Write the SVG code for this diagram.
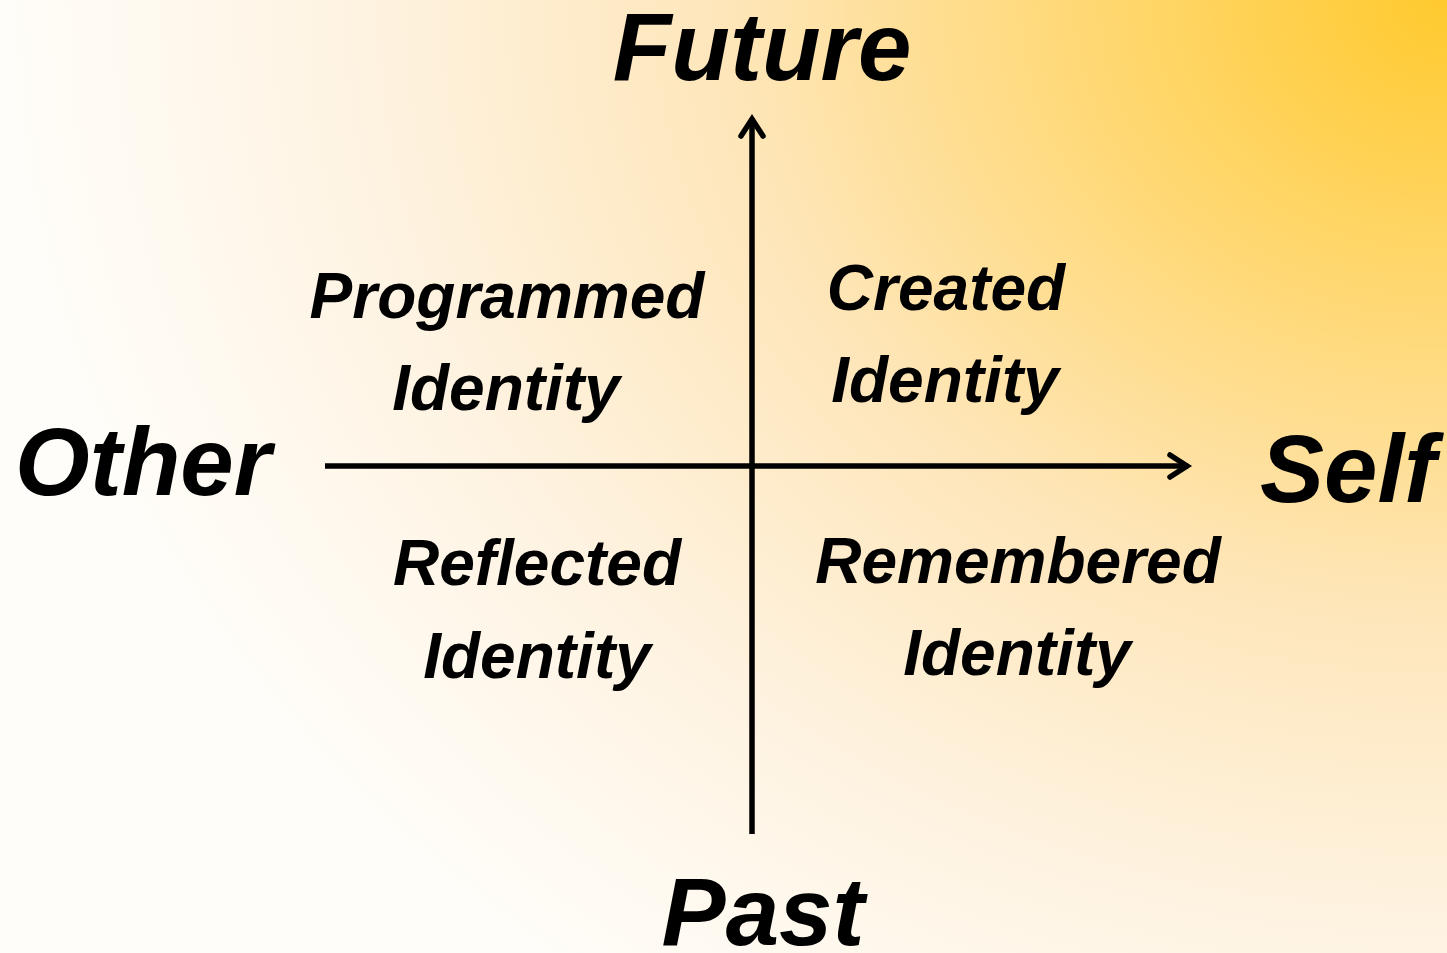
<svg xmlns="http://www.w3.org/2000/svg" width="1447" height="953" viewBox="0 0 1447 953">
  <defs>
    <radialGradient id="bg" gradientUnits="userSpaceOnUse" cx="1447" cy="0" r="1447" fx="1447" fy="0" gradientTransform="translate(1447,0) scale(1,0.85) translate(-1447,0)">
      <stop offset="0" stop-color="#FFCA2E"/>
      <stop offset="0.25" stop-color="#FFD874"/>
      <stop offset="0.5" stop-color="#FEE6BA"/>
      <stop offset="0.75" stop-color="#FEF3E1"/>
      <stop offset="1" stop-color="#FFFDF9"/>
    </radialGradient>
    <marker id="chev" viewBox="0 0 30 30" refX="24" refY="15" markerWidth="30" markerHeight="30" markerUnits="userSpaceOnUse" orient="auto">
      <path d="M6,4 L23,15 L6,26" fill="none" stroke="#000" stroke-width="5.5" stroke-linecap="round" stroke-linejoin="miter"/>
    </marker>
    <style>
      text { font-family: "Liberation Sans", Arial, sans-serif; font-weight: bold; font-style: italic; fill: #000; text-anchor: middle; }
      .axis { font-size: 96px; }
      .quad { font-size: 64px; }
      .line { stroke: #000; stroke-width: 5.5; fill: none; }
    </style>
  </defs>

  <rect x="0" y="0" width="1447" height="953" fill="url(#bg)"/>

  <!-- axes -->
  <g id="connectors">
    <line class="line" x1="752" y1="834" x2="752" y2="118" marker-end="url(#chev)"/>
    <line class="line" x1="325" y1="466" x2="1188" y2="466" marker-end="url(#chev)"/>
  </g>

  <!-- axis labels -->
  <g id="future"><text class="axis" x="762" y="80">Future</text></g>
  <g id="past"><text class="axis" x="763" y="945">Past</text></g>
  <g id="other"><text class="axis" x="143" y="495">Other</text></g>
  <g id="self"><text class="axis" x="1348" y="502">Self</text></g>

  <!-- quadrants -->
  <g id="programmed">
    <text class="quad" x="507" y="318">Programmed</text>
    <text class="quad" x="506" y="410">Identity</text>
  </g>
  <g id="created">
    <text class="quad" x="946" y="310">Created</text>
    <text class="quad" x="945" y="402">Identity</text>
  </g>
  <g id="reflected">
    <text class="quad" x="537" y="585">Reflected</text>
    <text class="quad" x="537" y="678">Identity</text>
  </g>
  <g id="remembered">
    <text class="quad" x="1018" y="583">Remembered</text>
    <text class="quad" x="1017" y="675">Identity</text>
  </g>
</svg>
